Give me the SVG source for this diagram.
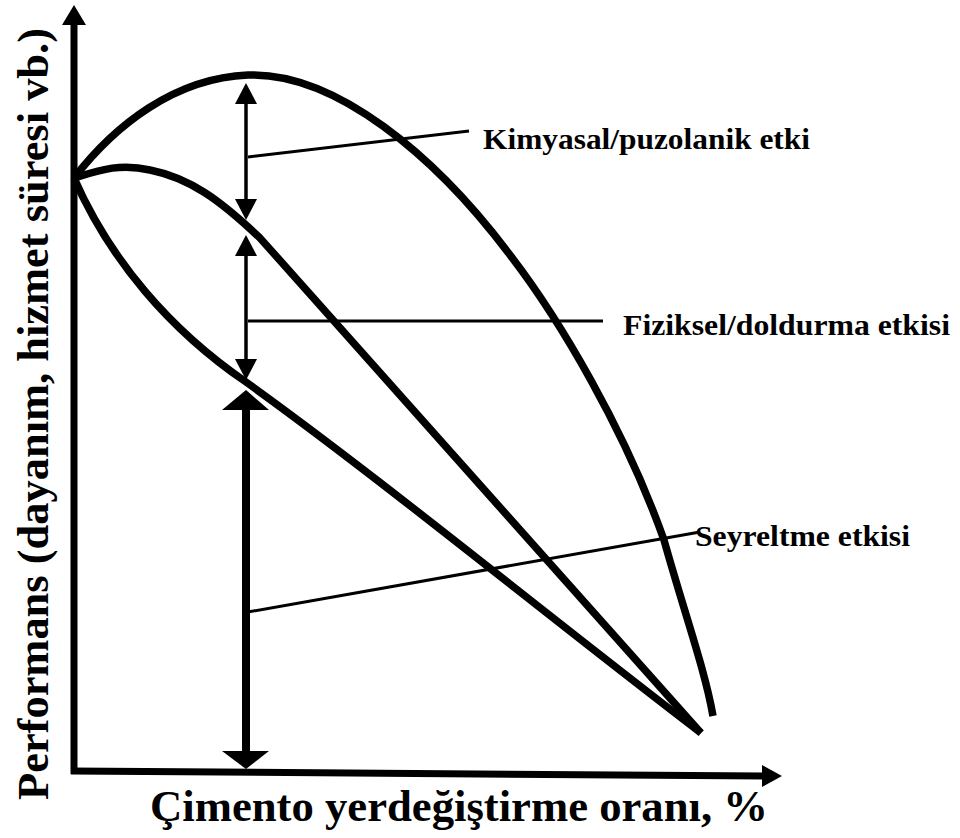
<svg xmlns="http://www.w3.org/2000/svg" width="960" height="838" viewBox="0 0 960 838">
<style>
.curve{fill:none;stroke:#000;stroke-width:7.5;stroke-linecap:butt;stroke-linejoin:miter}
.axis{fill:none;stroke:#000;stroke-width:7}
.thin{fill:none;stroke:#000;stroke-width:3.5}
.leader{fill:none;stroke:#000;stroke-width:3}
.head{fill:#000;stroke:none}
.lbl{font-family:"Liberation Serif","Times New Roman",serif;font-weight:bold;fill:#000}
</style>
<rect width="960" height="838" fill="#fff"/>
<g id="axes">
  <line class="axis" x1="74" y1="774" x2="74" y2="20"/>
  <polygon class="head" points="74,5 62,25 86,25"/>
  <line class="axis" x1="71" y1="771" x2="766" y2="776"/>
  <polygon class="head" points="782,776 762,765 762,787"/>
</g>
<g id="curves">
  <path id="upper" class="curve" d="M74,178 C115,125 175,78 248,75 C335,72 435,155 510,255 C560,320 625,430 664,540 C685,615 705,670 713,716"/>
  <path id="middle" class="curve" d="M74,178 C100,170 120,163 150,170 C190,178 220,200 260,238 L701,733"/>
  <path id="lower" class="curve" d="M74,178 C110,260 170,330 246,382 C380,478 540,610 701,733"/>
</g>
<g id="connectors">
  <line class="thin" x1="246" y1="100" x2="246" y2="204"/>
  <polygon class="head" points="246,83 235,104 257,104"/>
  <polygon class="head" points="246,220 235,199 257,199"/>
  <line class="thin" x1="246" y1="252" x2="246" y2="363"/>
  <polygon class="head" points="246,235 235,256 257,256"/>
  <polygon class="head" points="246,380 235,359 257,359"/>
  <line x1="246" y1="405" x2="246" y2="755" stroke="#000" stroke-width="8"/>
  <polygon class="head" points="246,390 222,410 269,410"/>
  <polygon class="head" points="246,769 222,751 269,751"/>
  <line class="leader" x1="248" y1="157" x2="469" y2="131"/>
  <line class="leader" x1="248" y1="321" x2="603" y2="321"/>
  <line class="leader" x1="248" y1="612" x2="700" y2="532"/>
</g>
<g id="label-kimyasal">
  <text class="lbl" x="483" y="149" font-size="30" textLength="327" lengthAdjust="spacingAndGlyphs">Kimyasal/puzolanik etki</text>
</g>
<g id="label-fiziksel">
  <text class="lbl" x="623" y="335" font-size="30" textLength="327" lengthAdjust="spacingAndGlyphs">Fiziksel/doldurma etkisi</text>
</g>
<g id="label-seyreltme">
  <text class="lbl" x="695" y="546" font-size="30" textLength="215" lengthAdjust="spacingAndGlyphs">Seyreltme etkisi</text>
</g>
<g id="label-x">
  <text class="lbl" x="150" y="821" font-size="44" textLength="618" lengthAdjust="spacingAndGlyphs">Çimento yerdeğiştirme oranı, %</text>
</g>
<g id="label-y">
  <text class="lbl" transform="translate(48,800) rotate(-90)" x="0" y="0" font-size="44" textLength="772" lengthAdjust="spacingAndGlyphs">Performans (dayanım, hizmet süresi vb.)</text>
</g>
</svg>
